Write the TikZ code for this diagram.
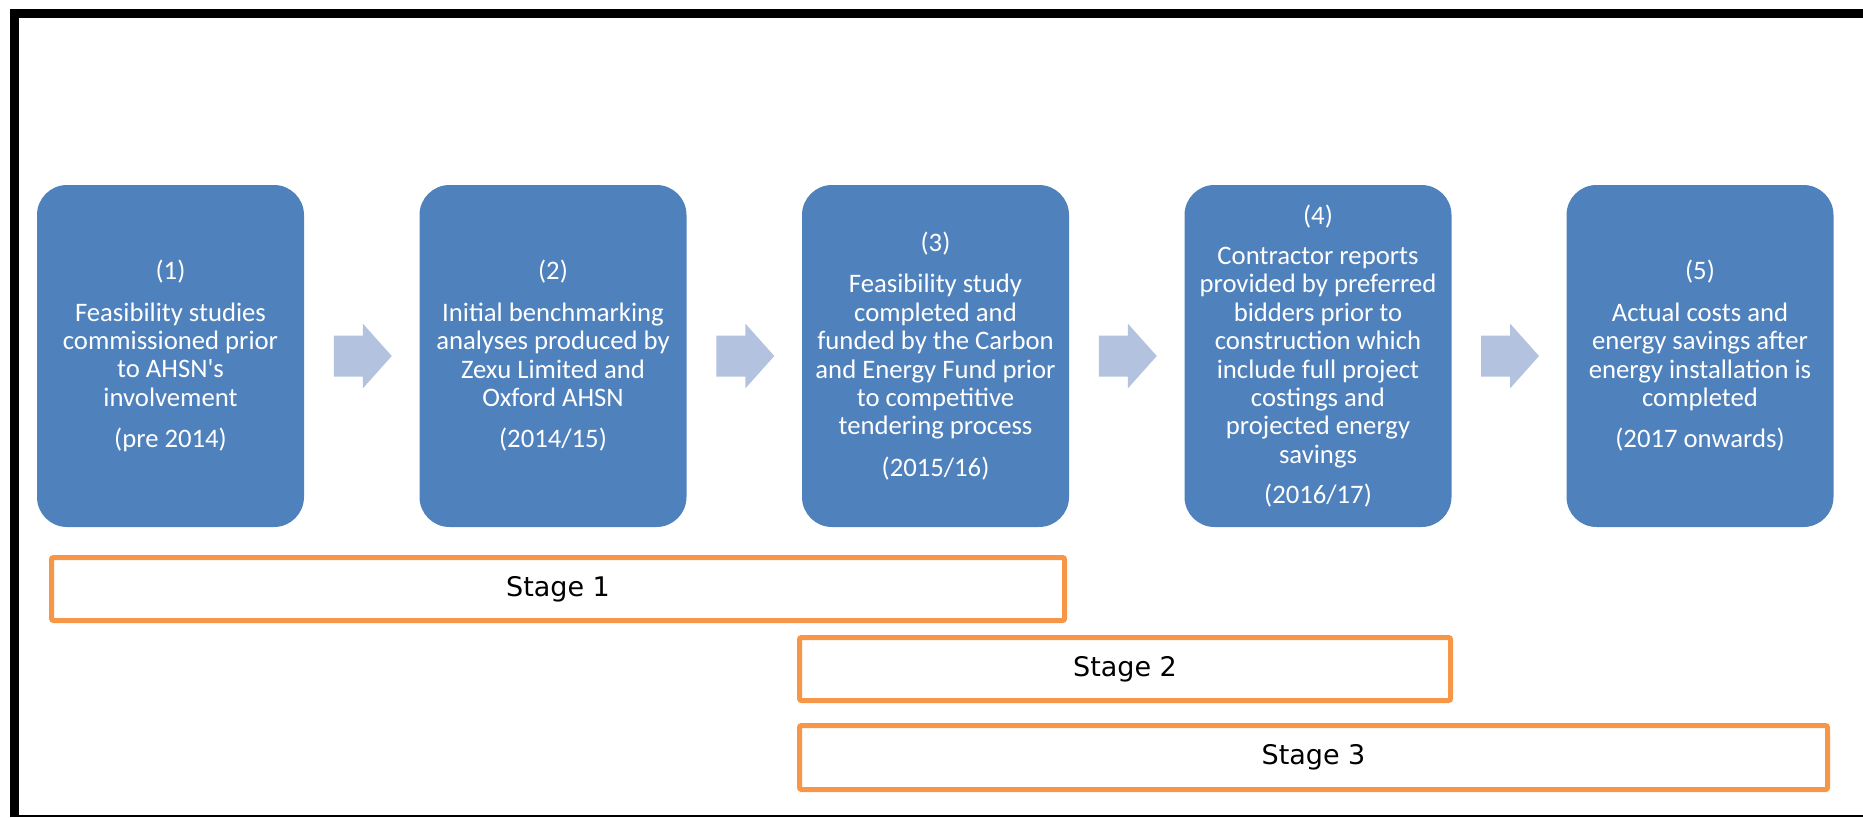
\documentclass[tikz,border=0pt]{standalone}
\usepackage{fontspec}
\setmainfont{Carlito}
\newfontfamily\stagefont{DejaVu Sans}
\usetikzlibrary{calc}
\definecolor{boxblue}{HTML}{4F81BD}
\definecolor{arrowblue}{HTML}{B3C2DE}
\definecolor{stageorange}{HTML}{F79646}
\newcommand\sq{{\XeTeXglyph\XeTeXcharglyph"27\relax}}
\begin{document}
\begin{tikzpicture}[x=1pt,y=-1pt,
  stepbox/.style={rectangle, rounded corners=30pt, fill=boxblue, text=white,
    minimum width=267pt, minimum height=342pt, inner sep=0pt, align=center,
    font=\fontsize{26.7}{28.4}\selectfont},
  stagebox/.style={rectangle, rounded corners=2pt, draw=stageorange, line width=5pt,
    inner sep=0pt, text=black, font=\stagefont\fontsize{27}{32}\selectfont},
  blockarrow/.style={fill=arrowblue}
]
\useasboundingbox (0,0) rectangle (1863,817);
% frame
\fill[black] (10,9) rectangle (1863,18);
\fill[black] (10,9) rectangle (19,817);
\fill[black] (10,815) rectangle (1863,817);

% step boxes
\node[stepbox] (b1) at (170.5,356) {(1)\\[13pt] Feasibility studies\\ commissioned prior\\ to AHSN\sq s\\ involvement\\[13pt] (pre 2014)};
\node[stepbox] (b2) at (553,356) {(2)\\[13pt] Initial benchmarking\\ analyses produced by\\ Zexu Limited and\\ Oxford AHSN\\[13pt] (2014/15)};
\node[stepbox] (b3) at (935.5,356) {(3)\\[13pt] Feasibility study\\ completed and\\ funded by the Carbon\\ and Energy Fund prior\\ to competitive\\ tendering process\\[13pt] (2015/16)};
\node[stepbox] (b4) at (1318,356) {(4)\\[12pt] Contractor reports\\ provided by preferred\\ bidders prior to\\ construction which\\ include full project\\ costings and\\ projected energy\\ savings\\[12pt] (2016/17)};
\node[stepbox] (b5) at (1700,356) {(5)\\[13pt] Actual costs and\\ energy savings after\\ energy installation is\\ completed\\[13pt] (2017 onwards)};

% block arrows between boxes
\foreach \a/\b in {b1/b2,b2/b3,b3/b4,b4/b5}
  \fill[blockarrow] ($(\a.east)!0.5!(\b.west)+(-28,-20.5)$) -- ++(29,0) -- ++(0,-12)
    -- ++(29,32.5) -- ++(-29,32.5) -- ++(0,-12) -- ++(-29,0) -- cycle;

% stage bars
\node[stagebox, minimum width=1013pt, minimum height=63pt] (s1) at (558,589) {Stage 1};
\node[stagebox, minimum width=651pt, minimum height=63pt] (s2) at (1125,669) {Stage 2};
\node[stagebox, minimum width=1028pt, minimum height=64pt] (s3) at (1313.5,757.5) {Stage 3};
\end{tikzpicture}
\end{document}
